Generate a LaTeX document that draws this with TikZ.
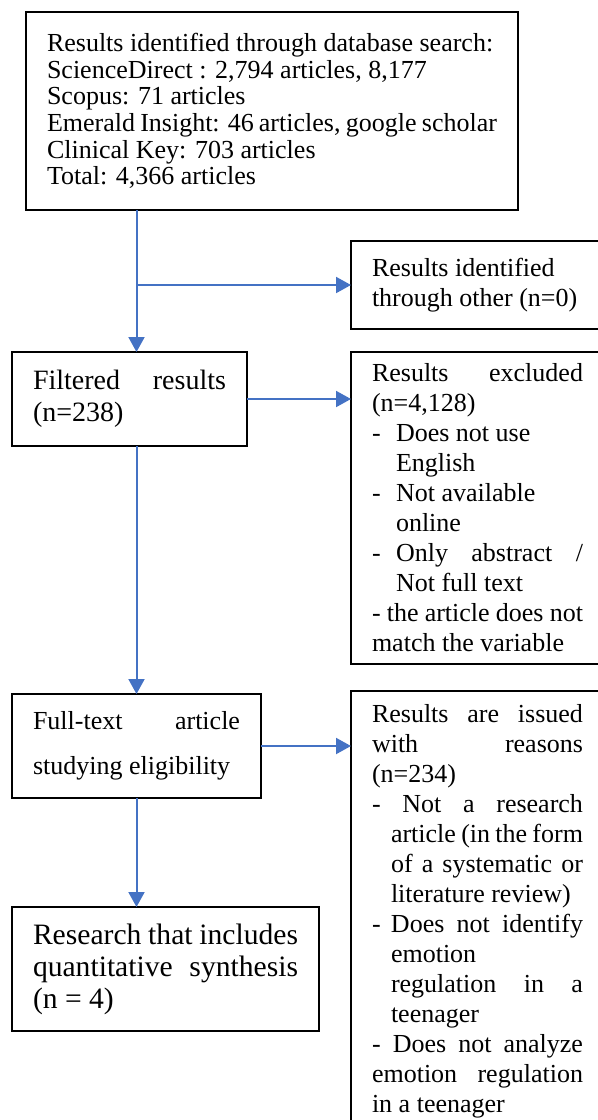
\documentclass[tikz,border=0pt]{standalone}
\usepackage{fontspec}
\setmainfont{Liberation Serif}
\usepackage{tikz}
\usetikzlibrary{positioning, arrows.meta}
\definecolor{flowBlue}{HTML}{4472C4}
\newcommand{\itm}[1]{\makebox[#1][l]{-}}

\begin{document}
\begin{tikzpicture}[
  x=0.5pt, y=-0.5pt,
  box/.style={draw=black, line width=0.6pt, anchor=north west, align=justify,
              inner xsep=10.5pt, inner ysep=0pt, outer sep=0pt,
              font=\fontsize{13}{15}\selectfont},
  arr/.style={draw=flowBlue, line width=1pt, -{Triangle[length=7.5pt,width=8pt]}},
]
  \useasboundingbox (0,0) rectangle (598,1120);
  \clip (0,0) rectangle (598,1120);

  \node[box, text width=225pt, minimum height=99pt,
        font=\fontsize{13}{13.3}\selectfont] (db) at (26,12) {
    Results identified through database search:\\
    ScienceDirect : 2,794 articles, 8,177\\
    Scopus: 71 articles\\
    Emerald Insight: 46 articles, google scholar\\
    Clinical Key: 703 articles\\
    Total: 4,366 articles
  };
  \node[box, text width=105.5pt, minimum height=44pt] (oth) at (351,241) {
    Results identified\\
    through other (n=0)
  };
  \node[box, text width=96.5pt, minimum height=47pt,
        font=\fontsize{14}{16}\selectfont] (filt) at (12,352) {
    Filtered\hfill results\\
    (n=238)
  };
  \node[box, text width=105.5pt, minimum height=156pt] (excl) at (351,352) {
    Results\hfill excluded\\
    (n=4,128)\\
    \itm{12pt}Does not use\\
    \hspace*{12pt}English\\
    \itm{12pt}Not available\\
    \hspace*{12pt}online\\
    \itm{12pt}Only\hfill abstract\hfill /\\
    \hspace*{12pt}Not full text\\
    - the article does not\\
    match the variable
  };
  \node[box, text width=103.5pt, minimum height=52pt,
        font=\fontsize{13}{22.5}\selectfont] (elig) at (12,694) {
    Full-text\hfill article\\
    studying eligibility
  };
  \node[box, text width=105.5pt, minimum height=220.5pt] (rsn) at (351,691) {
    Results\hfill are\hfill issued\\
    with\hfill reasons\\
    (n=234)\\
    -\hfill Not\hfill a\hfill research\\
    \hspace*{9.5pt}article\hfill (in\hfill the\hfill form\\
    \hspace*{9.5pt}of\hfill a\hfill systematic\hfill or\\
    \hspace*{9.5pt}literature review)\\
    \itm{9.5pt}Does\hfill not\hfill identify\\
    \hspace*{9.5pt}emotion\\
    \hspace*{9.5pt}regulation\hfill in\hfill a\\
    \hspace*{9.5pt}teenager\\
    -\hfill Does\hfill not\hfill analyze\\
    emotion\hfill regulation\\
    in a teenager
  };
  \node[box, text width=132.5pt, minimum height=62pt,
        font=\fontsize{14.8}{16}\selectfont] (syn) at (12,907) {
    Research that includes\\
    quantitative\hfill synthesis\\
    (n = 4)
  };

  \draw[arr] (db.south -| elig.north) -- (filt.north -| elig.north);
  \draw[arr] (oth.west -| elig.north) -- (oth.west);
  \draw[arr] (filt.east) -- (filt.east -| excl.west);
  \draw[arr] (filt.south -| elig.north) -- (elig.north);
  \draw[arr] (elig.east) -- (elig.east -| rsn.west);
  \draw[arr] (elig.south) -- (elig.south |- syn.north);
\end{tikzpicture}
\end{document}
